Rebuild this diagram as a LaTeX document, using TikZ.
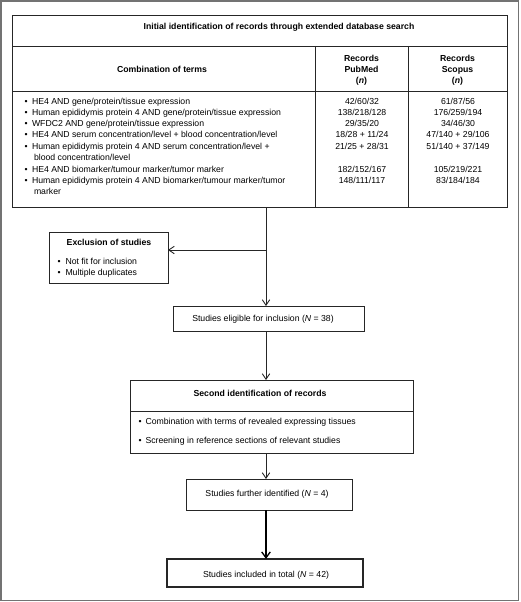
\documentclass[tikz,border=0pt]{standalone}
\usepackage{fontspec}
\setmainfont{Liberation Sans}
\usetikzlibrary{arrows.meta}
\begin{document}
\begin{tikzpicture}[x=1pt,y=-1pt,
  every node/.style={font=\fontsize{8.7}{11.3}\selectfont, inner sep=0pt, outer sep=0pt},
  box/.style={draw=black!85, line width=0.9pt, anchor=north west, rectangle},
  thickbox/.style={box, line width=1.7pt},
  rule/.style={draw=black!85, line width=0.9pt},
  arr/.style={draw=black!85, line width=0.9pt, -{Straight Barb[length=5.5pt,width=7.5pt]}},
  thickarr/.style={draw=black, line width=1.5pt, -{Straight Barb[length=6pt,width=8.5pt,line width=1.3pt]}},
  lt/.style={anchor=base west},
  ct/.style={anchor=base},
  bt/.style={anchor=base, font=\fontsize{8.7}{11.3}\selectfont\bfseries},
  bul/.style={anchor=base west}
]
\useasboundingbox (0,0) rectangle (520,602);
\draw[black!55, line width=1.4pt] (1,1) rectangle (518.5,600.5);

% ---------- table ----------
\node[box, minimum width=494.3pt, minimum height=192pt] (tbl) at (12.7,15) {};
\coordinate (r1) at (12.7,46);
\coordinate (r2) at (12.7,91);
\coordinate (c1) at (315,46);
\coordinate (c2) at (408,46);
\draw[rule] (r1) -- (r1 -| tbl.east);
\draw[rule] (r2) -- (r2 -| tbl.east);
\draw[rule] (c1) -- (c1 |- tbl.south);
\draw[rule] (c2) -- (c2 |- tbl.south);

\node[bt] (ttl) at (279,30) {Initial identification of records through extended database search};
\node[bt] (hc) at (162,73) {Combination of terms};
\node[bt] (hp1) at (361.5,62) {Records};
\node[bt] (hp2) at (361.5,73) {PubMed};
\node[bt] (hp3) at (361.5,83.5) {(\textit{n})};
\node[bt] (hs1) at (457.5,62) {Records};
\node[bt] (hs2) at (457.5,73) {Scopus};
\node[bt] (hs3) at (457.5,83.5) {(\textit{n})};

% rows
\node[bul] (b1) at (24.5,104) {\textbullet};
\node[lt] (t1) at (32,104) {HE4 AND gene/protein/tissue expression};
\node[ct] (p1) at (362,104) {42/60/32};
\node[ct] (s1) at (458,104) {61/87/56};

\node[bul] (b2) at (24.5,115.3) {\textbullet};
\node[lt] (t2) at (32,115.3) {Human epididymis protein 4 AND gene/protein/tissue expression};
\node[ct] (p2) at (362,115.3) {138/218/128};
\node[ct] (s2) at (458,115.3) {176/259/194};

\node[bul] (b3) at (24.5,126.6) {\textbullet};
\node[lt] (t3) at (32,126.6) {WFDC2 AND gene/protein/tissue expression};
\node[ct] (p3) at (362,126.6) {29/35/20};
\node[ct] (s3) at (458,126.6) {34/46/30};

\node[bul] (b4) at (24.5,137.9) {\textbullet};
\node[lt] (t4) at (32,137.9) {HE4 AND serum concentration/level + blood concentration/level};
\node[ct] (p4) at (362,137.9) {18/28 + 11/24};
\node[ct] (s4) at (458,137.9) {47/140 + 29/106};

\node[bul] (b5) at (24.5,149.2) {\textbullet};
\node[lt] (t5) at (32,149.2) {Human epididymis protein 4 AND serum concentration/level +};
\node[lt] (t5b) at (34,160.5) {blood concentration/level};
\node[ct] (p5) at (362,149.2) {21/25 + 28/31};
\node[ct] (s5) at (458,149.2) {51/140 + 37/149};

\node[bul] (b6) at (24.5,172.3) {\textbullet};
\node[lt] (t6) at (32,172.3) {HE4 AND biomarker/tumour marker/tumor marker};
\node[ct] (p6) at (362,172.3) {182/152/167};
\node[ct] (s6) at (458,172.3) {105/219/221};

\node[bul] (b7) at (24.5,183.6) {\textbullet};
\node[lt] (t7) at (32,183.6) {Human epididymis protein 4 AND biomarker/tumour marker/tumor};
\node[lt] (t7b) at (34,194.9) {marker};
\node[ct] (p7) at (362,183.6) {148/111/117};
\node[ct] (s7) at (458,183.6) {83/184/184};

% ---------- exclusion ----------
\node[box, minimum width=119pt, minimum height=51pt] (excl) at (49,232) {};
\node[bt] (extl) at (109,245) {Exclusion of studies};
\node[bul] (eb1) at (57.5,264.5) {\textbullet};
\node[lt] (et1) at (65.5,264.5) {Not fit for inclusion};
\node[bul] (eb2) at (57.5,275.5) {\textbullet};
\node[lt] (et2) at (65.5,275.5) {Multiple duplicates};

% ---------- eligible ----------
\node[box, minimum width=191pt, minimum height=25pt] (elig) at (173,306) {};
\node[ct] (eligt) at (263,321) {Studies eligible for inclusion (\textit{N} = 38)};

% ---------- second identification ----------
\node[box, minimum width=283pt, minimum height=73pt] (sec) at (130,380) {};
\coordinate (sd) at (130,411);
\draw[rule] (sd) -- (sd -| sec.east);
\node[bt] (sect) at (260,396.5) {Second identification of records};
\node[bul] (sb1) at (138.5,424.5) {\textbullet};
\node[lt] (st1) at (145.5,424.5) {Combination with terms of revealed expressing tissues};
\node[bul] (sb2) at (138.5,443.5) {\textbullet};
\node[lt] (st2) at (145.5,443.5) {Screening in reference sections of relevant studies};

% ---------- further ----------
\node[box, minimum width=166pt, minimum height=31pt] (fur) at (186,479) {};
\node[ct] (furt) at (267,496.5) {Studies further identified (\textit{N} = 4)};

% ---------- final ----------
\node[thickbox, minimum width=196pt, minimum height=28pt] (fin) at (167,559) {};
\node[ct] (fint) at (266,577) {Studies included in total (\textit{N} = 42)};

% ---------- connectors ----------
\coordinate (spine) at (266,0);
\coordinate (jn) at (266,250);
\draw[rule] (tbl.south -| spine) -- (jn);
\draw[arr] (jn) -- (excl.east |- jn);
\draw[arr] (jn) -- (elig.north -| spine);
\draw[arr] (elig.south -| spine) -- (sec.north -| spine);
\draw[arr] (sec.south -| spine) -- (fur.north -| spine);
\draw[thickarr] (fur.south -| spine) -- (fin.north -| spine);
\end{tikzpicture}
\end{document}
